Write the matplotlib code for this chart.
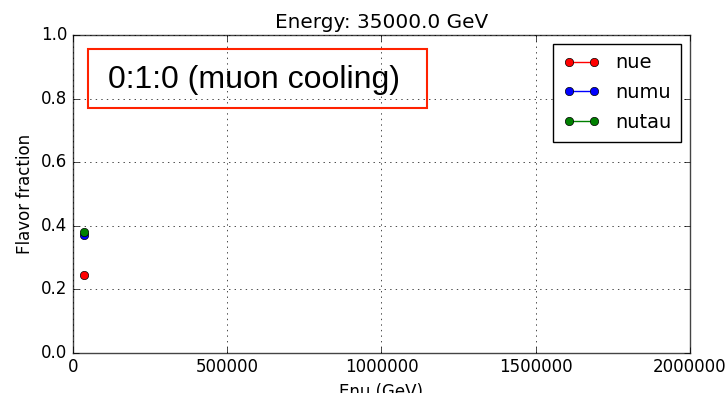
import matplotlib
matplotlib.use("Agg")
import matplotlib.pyplot as plt
from matplotlib.patches import Rectangle

plt.style.use("classic")

energy = 35000.0
flavors = ["nue", "numu", "nutau"]
colors = ["red", "blue", "green"]
fractions = [0.245, 0.37, 0.38]
label_text = "0:1:0 (muon cooling)"

fig = plt.figure(figsize=(7.27, 3.93), dpi=100, facecolor="white")
ax = fig.add_axes([0.1004, 0.102, 0.8487, 0.809])

for name, c, frac in zip(flavors, colors, fractions):
    ax.plot([energy], [frac], "o-", color=c, label=name, markersize=6)

ax.set_xlim(0, 2000000)
ax.set_ylim(0.0, 1.0)
ax.set_xticks([0, 500000, 1000000, 1500000, 2000000])
ax.set_yticks([0.0, 0.2, 0.4, 0.6, 0.8, 1.0])
ax.ticklabel_format(style="plain", axis="x", useOffset=False)
ax.grid(True)
for sp in ax.spines.values():
    sp.set_color("#444444")
ax.set_xlabel("Enu (GeV)")
ax.set_ylabel("Flavor fraction")
ax.set_title("Energy: %.1f GeV" % energy)
ax.legend(loc="upper right", numpoints=2, fontsize=14, handlelength=1.9,
          borderaxespad=0.45, labelspacing=0.55, borderpad=0.5)

# boxed scenario label
box = Rectangle((88 / 727, 1 - 108 / 393), (427 - 88) / 727, (108 - 49) / 393,
                transform=fig.transFigure, fill=False, edgecolor="#ff2200",
                linewidth=1.5, zorder=10)
fig.patches.append(box)
fig.text(108 / 727, 1 - 80 / 393, label_text, family="Liberation Sans",
         fontsize=23, va="center", ha="left")

fig.savefig("out.png", dpi=100, facecolor="white")
